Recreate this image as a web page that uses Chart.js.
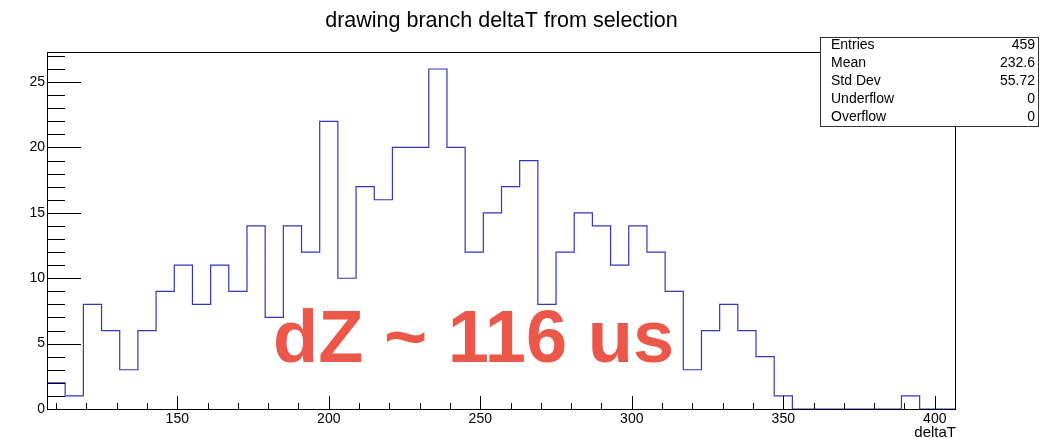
<!DOCTYPE html>
<html>
<head>
<meta charset="utf-8">
<script src="https://cdn.jsdelivr.net/npm/chart.js@4/dist/chart.umd.min.js"></script>
<style>
  html, body { margin: 0; padding: 0; background: #fff; }
  #wrap { width: 1042px; height: 439px; }
</style>
</head>
<body>
<div id="wrap"><canvas id="c" width="1042" height="439"></canvas></div>
<script>
// histogram of deltaT, 50 bins from 107 to 407
const binLow = 107;
const binWidth = 6;
const counts = [2, 1, 8, 6, 3, 6, 9, 11, 8, 11, 9, 14, 7, 14, 12, 22, 10, 17, 16, 20,
  20, 26, 20, 12, 15, 17, 19, 8, 12, 15, 14, 11, 14, 12, 9, 3, 6, 8, 6, 4,
  1, 0, 0, 0, 0, 0, 0, 1, 0, 0];
const xTicks = [150, 200, 250, 300, 350, 400];
const yTicks = [0, 5, 10, 15, 20, 25];
const statLabels = ["Entries", "Mean", "Std Dev", "Underflow", "Overflow"];
const statValues = ["459", "232.6", "55.72", "0", "0"];

const points = counts.map((c, i) => ({ x: binLow + i * binWidth, y: c }));
points.push({ x: binLow + counts.length * binWidth, y: counts[counts.length - 1] });

const FONT = "'Liberation Sans', Arial, Helvetica, sans-serif";

const rootStyle = {
  id: "rootStyle",
  afterDatasetsDraw(chart) {
    const { ctx } = chart;
    ctx.save();
    // big red annotation
    ctx.fillStyle = "#eb5748";
    ctx.font = "bold 74px " + FONT;
    ctx.textBaseline = "alphabetic";
    ctx.textAlign = "left";
    ctx.fillText("dZ ~ 116 us", 273, 362);
    ctx.restore();
  },
  afterDraw(chart) {
    const { ctx, chartArea: a, scales: { x, y } } = chart;
    ctx.save();
    ctx.strokeStyle = "#000";
    ctx.lineWidth = 1;
    // frame
    ctx.strokeRect(a.left + 0.5, a.top + 0.5, a.right - a.left - 1, a.bottom - a.top);
    // x ticks inside
    ctx.beginPath();
    for (let v = 110; v <= 400; v += 10) {
      const px = Math.round(x.getPixelForValue(v)) + 0.5;
      const len = v % 50 === 0 ? 13 : 6;
      ctx.moveTo(px, a.bottom);
      ctx.lineTo(px, a.bottom - len);
    }
    // y ticks inside
    for (let v = 0; v <= 27; v += 1) {
      const py = Math.round(y.getPixelForValue(v)) + 0.5;
      const len = v % 5 === 0 ? 34 : 18;
      ctx.moveTo(a.left, py);
      ctx.lineTo(a.left + len, py);
    }
    ctx.stroke();

    // axis title
    ctx.fillStyle = "#000";
    ctx.font = "15px " + FONT;
    ctx.textAlign = "right";
    ctx.textBaseline = "middle";
    ctx.fillText("deltaT", a.right, 433);

    // stats box
    const bx = 820, by = 37, bw = 218, bh = 89;
    ctx.fillStyle = "#fff";
    ctx.fillRect(bx, by, bw, bh);
    ctx.strokeStyle = "#333";
    ctx.strokeRect(bx + 0.5, by + 0.5, bw, bh);
    ctx.fillStyle = "#000";
    ctx.font = "14px " + FONT;
    statLabels.forEach((lab, i) => {
      const ty = 45.5 + i * 17.8;
      ctx.textAlign = "left";
      ctx.fillText(lab, 831, ty);
      ctx.textAlign = "right";
      ctx.fillText(statValues[i], 1035, ty);
    });
    ctx.restore();
  }
};

new Chart(document.getElementById("c"), {
  type: "line",
  data: {
    datasets: [{
      data: points,
      stepped: "before",
      borderColor: "#3535c4",
      borderWidth: 1.2,
      pointRadius: 0,
      fill: false,
    }],
  },
  options: {
    responsive: false,
    animation: false,
    layout: { padding: { left: 0, right: 86, bottom: 0 } },
    plugins: {
      legend: { display: false },
      tooltip: { enabled: false },
      title: {
        display: true,
        fullSize: false,
        text: "drawing branch deltaT from selection",
        color: "#000",
        font: { family: FONT, size: 21.5, weight: "normal" },
        padding: { top: 8, bottom: 18.2 },
      },
    },
    scales: {
      x: {
        type: "linear",
        min: binLow,
        max: binLow + counts.length * binWidth,
        afterBuildTicks: (s) => { s.ticks = xTicks.map((v) => ({ value: v })); },
        afterFit: (s) => { s.height = 30; },
        grid: { display: false, drawTicks: false },
        border: { display: false },
        ticks: { color: "#000", font: { family: FONT, size: 14 }, padding: 2, maxRotation: 0 },
      },
      y: {
        min: 0,
        max: 27.3,
        afterBuildTicks: (s) => { s.ticks = yTicks.map((v) => ({ value: v })); },
        afterFit: (s) => { s.width = 47; },
        grid: { display: false, drawTicks: false },
        border: { display: false },
        ticks: { color: "#000", font: { family: FONT, size: 14 }, padding: 2 },
      },
    },
  },
  plugins: [rootStyle],
});
</script>
</body>
</html>
